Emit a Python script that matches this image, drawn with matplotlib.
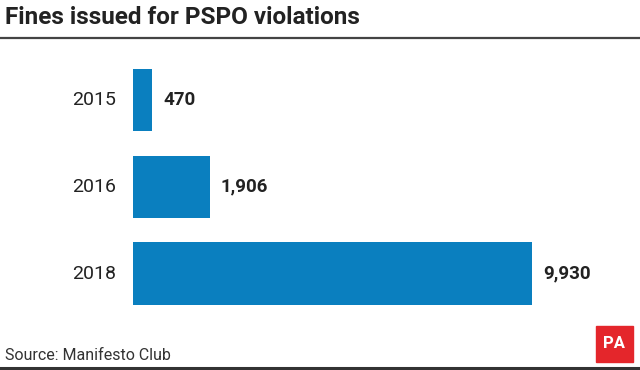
import matplotlib
matplotlib.use("Agg")
import matplotlib.pyplot as plt
from matplotlib.patches import Rectangle
from matplotlib.lines import Line2D

# data
years = ["2015", "2016", "2018"]
fines = [470, 1906, 9930]
value_labels = ["470", "1,906", "9,930"]

W, H = 640, 370
bar_color = "#0a7fbf"
text_color = "#222222"

fig = plt.figure(figsize=(W / 100, H / 100), dpi=100)
fig.patch.set_facecolor("white")

# axes placed in pixel terms
left, right, top, bottom = 133, 600, 60, 320
ax = fig.add_axes([left / W, 1 - bottom / H, (right - left) / W, (bottom - top) / H])
ypos = list(range(len(years)))
ax.barh(ypos, fines, height=0.72, color=bar_color)
ax.set_xlim(0, 9930 * (right - left) / 399)
ax.set_ylim(2.536, -0.461)
ax.axis("off")

for y, v, lab, yr in zip(ypos, fines, value_labels, years):
    ax.annotate(lab, xy=(v, y), xytext=(8, 0), textcoords="offset points",
                va="center", ha="left", fontsize=13.5, fontweight="bold",
                color=text_color, family="Roboto")
    ax.annotate(yr, xy=(0, y), xytext=(-12, 0), textcoords="offset points",
                va="center", ha="right", fontsize=14, color=text_color,
                family="Roboto")

# title and rules
fig.text(5 / W, 1 - 18 / H, "Fines issued for PSPO violations", fontsize=17.5,
         fontweight="bold", color=text_color, va="center", ha="left",
         family="Roboto")
fig.add_artist(Line2D([0, 1], [1 - 38 / H, 1 - 38 / H], color="#444444", lw=1.6))
fig.add_artist(Line2D([0, 1], [1 - 368 / H, 1 - 368 / H], color="#333333", lw=2.2))

fig.text(5 / W, 1 - 355 / H, "Source: Manifesto Club", fontsize=11.5,
         color="#333333", va="center", ha="left", family="Roboto")

# PA logo
fig.add_artist(Rectangle((596 / W, 1 - 362 / H), 37 / W, 36 / H,
                         transform=fig.transFigure, color="#e4262b"))
fig.text(614.5 / W, 1 - 344 / H, "PA", fontsize=12, fontweight="bold",
         color="white", va="center", ha="center", family="Roboto")

fig.savefig("out.png", dpi=100)
